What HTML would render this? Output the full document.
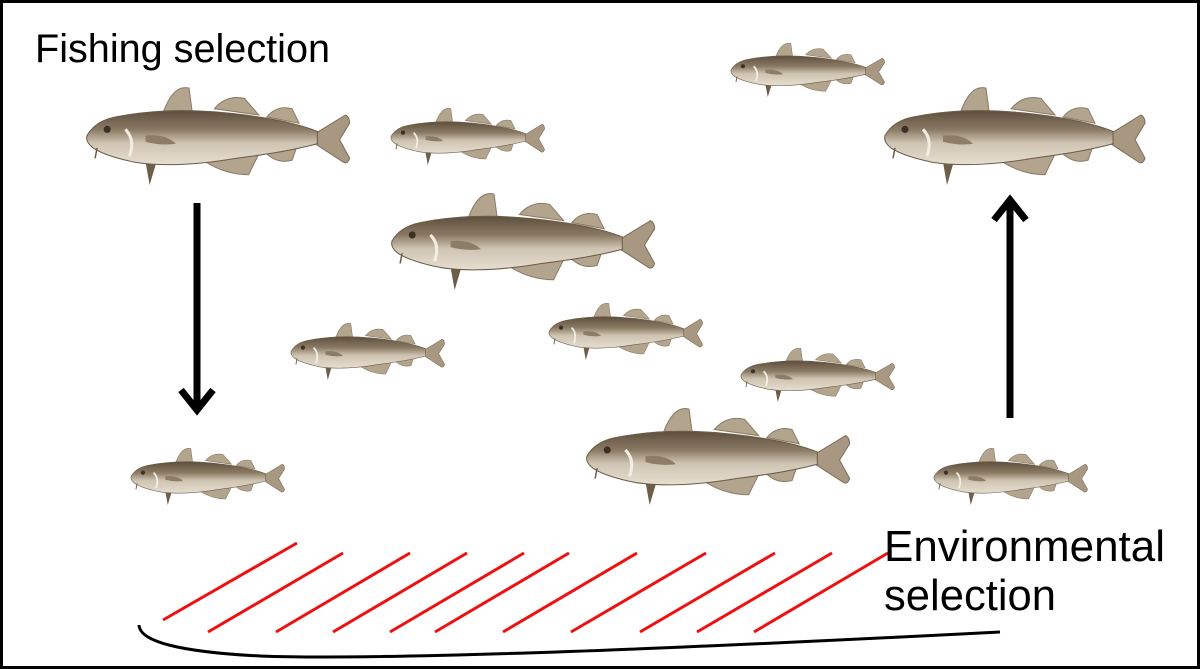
<!DOCTYPE html>
<html><head><meta charset="utf-8"><style>
html,body{margin:0;padding:0;background:#fff}
#w{position:relative;width:1200px;height:669px;overflow:hidden}
</style></head><body><div id="w">
<svg width="1200" height="669" viewBox="0 0 1200 669" xmlns="http://www.w3.org/2000/svg">
<defs>
<linearGradient id="g" x1="0" y1="0" x2="0" y2="1">
<stop offset="0" stop-color="#5e4f3e"/><stop offset="0.35" stop-color="#8a7a64"/><stop offset="0.6" stop-color="#cfc4b2"/><stop offset="1" stop-color="#e6ded0"/>
</linearGradient>
<g id="fish">
<path d="M78 28 Q88 2 103 6 L106 28 Z" fill="#b3a48d" stroke="#8a7b66" stroke-width="1"/>
<path d="M128 26 Q140 12 158 16 L172 32 Z" fill="#b3a48d" stroke="#8a7b66" stroke-width="1"/>
<path d="M180 34 Q190 22 205 26 L212 40 Z" fill="#b3a48d" stroke="#8a7b66" stroke-width="1"/>
<path d="M120 78 Q140 90 162 90 L172 70 Z" fill="#b3a48d" stroke="#8a7b66" stroke-width="1"/>
<path d="M178 68 Q190 80 205 76 L210 62 Z" fill="#b3a48d" stroke="#8a7b66" stroke-width="1"/>
<path d="M60 78 L64 100 L70 80 Z" fill="#6d5e4a"/>
<path d="M228 50 L258 32 Q262 34 262 40 L252 56 L262 74 Q260 80 256 78 L228 60 Z" fill="#a89881" stroke="#7d6e59" stroke-width="1"/>
<path d="M2 52 Q10 38 30 34 Q80 24 140 30 Q200 36 230 48 L230 60 Q200 68 150 74 Q90 84 50 78 Q20 72 8 64 Q0 58 2 52 Z" fill="url(#g)" stroke="#6b5b48" stroke-width="1"/>
<circle cx="22" cy="46" r="3.5" fill="#3a3025"/>
<path d="M40 46 Q50 56 44 72" stroke="#f3eee4" stroke-width="3" fill="none"/>
<path d="M60 52 Q80 50 90 60 Q75 62 60 58Z" fill="#8d7d67"/>
<path d="M12 64 L10 74" stroke="#6b5b48" stroke-width="1.5"/>
</g>
</defs>
<rect x="1.5" y="1.5" width="1197" height="666" fill="#fff" stroke="#000" stroke-width="3"/>
<g>
<use href="#fish" transform="translate(85,82) scale(1.01,1.03)"/>
<use href="#fish" transform="translate(390,105) scale(0.59,0.6)"/>
<use href="#fish" transform="translate(730,40) scale(0.59,0.57)"/>
<use href="#fish" transform="translate(883,82) scale(1.0,1.03)"/>
<use href="#fish" transform="translate(390,188) scale(1.01,1.02)"/>
<use href="#fish" transform="translate(290,320) scale(0.59,0.6)"/>
<use href="#fish" transform="translate(548,300) scale(0.59,0.6)"/>
<use href="#fish" transform="translate(740,345) scale(0.59,0.57)"/>
<use href="#fish" transform="translate(130,445) scale(0.59,0.6)"/>
<use href="#fish" transform="translate(585,403) scale(1.01,1.02)"/>
<use href="#fish" transform="translate(933,445) scale(0.59,0.6)"/>
</g>
<line x1="197" y1="203" x2="197" y2="410" stroke="#000" stroke-width="7"/>
<polyline points="181,390 197,410 213,390" fill="none" stroke="#000" stroke-width="7"/>
<line x1="1010" y1="418" x2="1010" y2="200" stroke="#000" stroke-width="7"/>
<polyline points="994,220 1010,200 1026,220" fill="none" stroke="#000" stroke-width="7"/>
<g stroke="#ee1111" stroke-width="3">
<line x1="163" y1="620" x2="297" y2="543"/>
<line x1="208" y1="632" x2="343" y2="553"/>
<line x1="276" y1="632" x2="410" y2="553"/>
<line x1="333" y1="632" x2="467" y2="553"/>
<line x1="390" y1="632" x2="524" y2="553"/>
<line x1="435" y1="632" x2="569" y2="553"/>
<line x1="503" y1="632" x2="637" y2="553"/>
<line x1="571" y1="632" x2="706" y2="553"/>
<line x1="640" y1="632" x2="775" y2="553"/>
<line x1="697" y1="632" x2="832" y2="553"/>
<line x1="754" y1="632" x2="888" y2="553"/>
</g>
<path d="M139 625 Q140 650 260 656 Q420 662 1000 632" fill="none" stroke="#000" stroke-width="3"/>
<text x="35" y="62" font-family="Liberation Sans, sans-serif" font-size="40" textLength="295" lengthAdjust="spacingAndGlyphs" fill="#000">Fishing selection</text>
<text x="884" y="561" font-family="Liberation Sans, sans-serif" font-size="44" textLength="281" lengthAdjust="spacingAndGlyphs" fill="#000">Environmental</text>
<text x="884" y="610" font-family="Liberation Sans, sans-serif" font-size="44" textLength="172" lengthAdjust="spacingAndGlyphs" fill="#000">selection</text>
</svg>
</div></body></html>
